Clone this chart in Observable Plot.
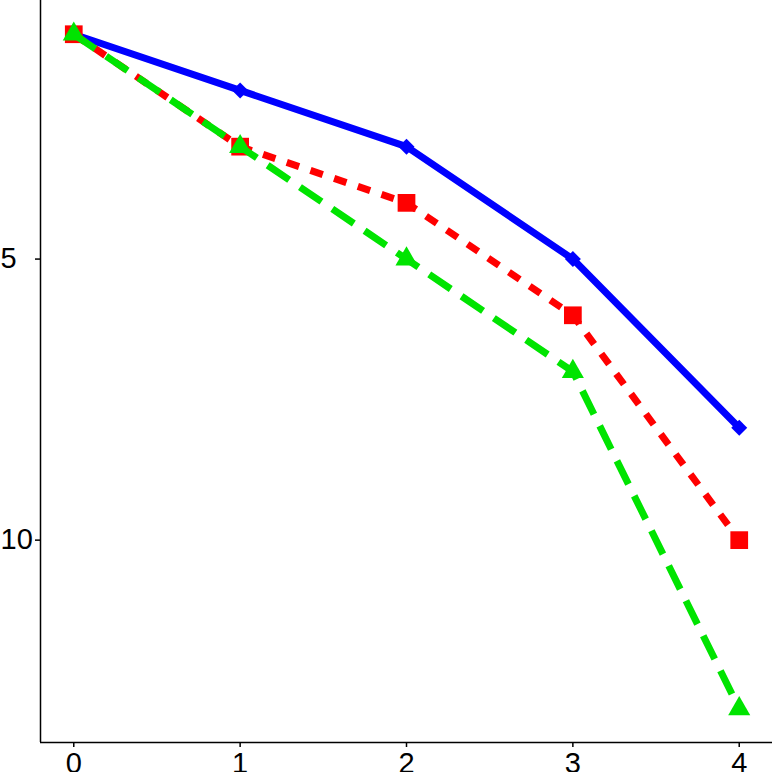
<!DOCTYPE html>
<html>
<head>
<meta charset="utf-8">
<script src="https://cdn.jsdelivr.net/npm/d3@7"></script>
<script src="https://cdn.jsdelivr.net/npm/@observablehq/plot@0.6"></script>
<style>
  html, body { margin: 0; padding: 0; background: white; }
  #chart svg { display: block; }
</style>
</head>
<body>
<div id="chart"></div>
<script>
// Data
const xValues = [0, 1, 2, 3, 4];
const blueValues = [1, 2, 3, 5, 8];
const redValues = [1, 3, 4, 6, 10];
const greenValues = [1, 3, 5, 7, 13];
const xTicks = [0, 1, 2, 3, 4];
const yTicks = [5, 10];
const xDomain = [-0.2, 4.2];
const yDomain = [0.4, 13.6];

const blueRows = xValues.map((x, i) => ({x, y: blueValues[i]}));
const redRows = xValues.map((x, i) => ({x, y: redValues[i]}));
const greenRows = xValues.map((x, i) => ({x, y: greenValues[i]}));

const font = "'Liberation Sans', Arial, Helvetica, sans-serif";
const BLUE = "#0000FF", RED = "#FF0000", GREEN = "#00E400";

const chart = Plot.plot({
  width: 772,
  height: 772,
  marginLeft: 40,
  marginRight: 0,
  marginTop: 0,
  marginBottom: 30,
  style: {fontFamily: font, fontSize: "29px", color: "black", background: "white"},
  x: {domain: xDomain},
  y: {domain: yDomain, reverse: true},
  marks: [
    Plot.ruleX([xDomain[0]], {stroke: "black", strokeWidth: 1.5}),
    Plot.ruleY([yDomain[1]], {stroke: "black", strokeWidth: 1.5}),
    Plot.axisX({ticks: xTicks, tickSize: 5, tickPadding: 5, fontSize: 29, strokeWidth: 1.5, label: null, tickFormat: d => String(d)}),
    Plot.axisY({ticks: yTicks, tickSize: 5, tickPadding: 35, textAnchor: "start", fontSize: 29, strokeWidth: 1.5, label: null, tickFormat: d => String(d)}),
    Plot.line(blueRows, {x: "x", y: "y", stroke: BLUE, strokeWidth: 7, strokeLinecap: "butt", strokeLinejoin: "round"}),
    Plot.dot(blueRows, {x: "x", y: "y", symbol: "diamond2", fill: BLUE, r: 7.2}),
    Plot.line(redRows, {x: "x", y: "y", stroke: RED, strokeWidth: 7, strokeDasharray: "13,12", strokeLinecap: "butt"}),
    Plot.dot(redRows, {x: "x", y: "y", symbol: "square", fill: RED, r: 10}),
    Plot.line(greenRows, {x: "x", y: "y", stroke: GREEN, strokeWidth: 7, strokeDasharray: "26,13", strokeLinecap: "butt"}),
    Plot.dot(greenRows, {x: "x", y: "y", symbol: "triangle", fill: GREEN, r: 8.2})
  ]
});
document.getElementById("chart").appendChild(chart);
</script>
</body>
</html>
